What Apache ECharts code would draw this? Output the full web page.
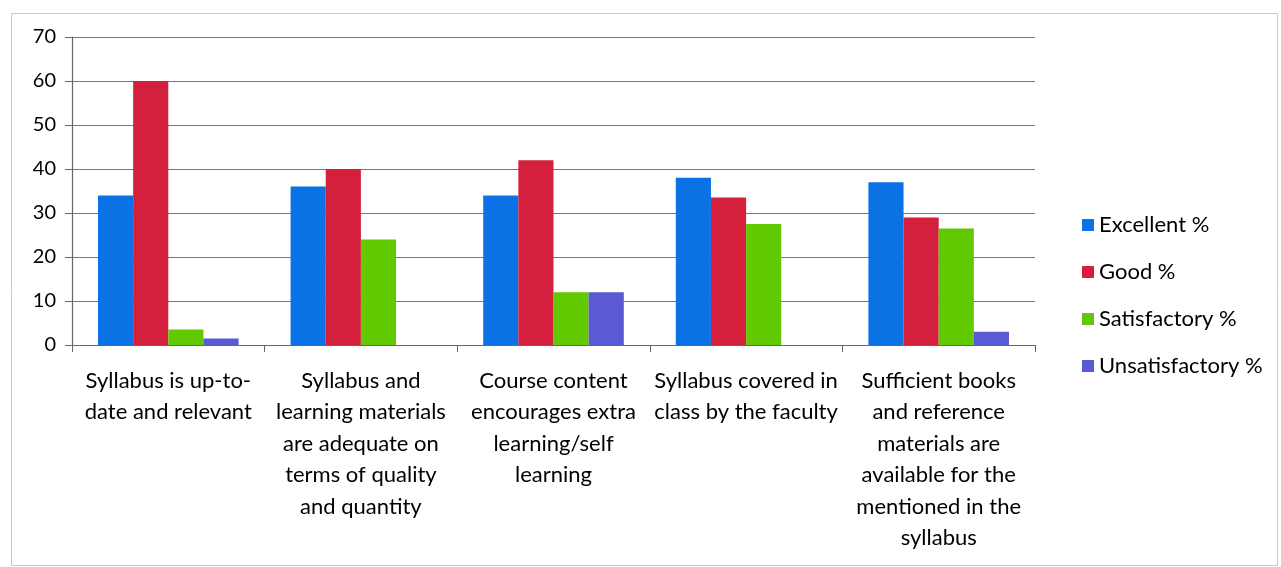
<!DOCTYPE html>
<html><head><meta charset="utf-8">
<script src="https://cdn.jsdelivr.net/npm/echarts@6/dist/echarts.min.js"></script>
<style>html,body{margin:0;padding:0;background:#fff}#c{width:1281px;height:567px}</style>
</head><body><div id="c"></div>
<script>
const categories = [
  "Syllabus is up-to-\ndate and relevant",
  "Syllabus and\nlearning materials\nare adequate on\nterms of quality\nand quantity",
  "Course content\nencourages extra\nlearning/self\nlearning",
  "Syllabus covered in\nclass by the faculty",
  "Sufficient books\nand reference\nmaterials are\navailable for the\nmentioned in the\nsyllabus"
];
const seriesNames = ["Excellent %", "Good %", "Satisfactory %", "Unsatisfactory %"];
const excellent = [34, 36, 34, 38, 37];
const good = [60, 40, 42, 33.5, 29];
const satisfactory = [3.5, 24, 12, 27.5, 26.5];
const unsatisfactory = [1.5, 0, 12, 0, 3];
const yTicks = [0, 10, 20, 30, 40, 50, 60, 70];
const colors = ["#0b72e6", "#d41f3d", "#62c800", "#5a5ad2"];

const chart = echarts.init(document.getElementById('c'));
const dataSets = [excellent, good, satisfactory, unsatisfactory];
chart.setOption({
  animation: false,
  backgroundColor: '#fff',
  textStyle: {fontFamily: 'Lato, "Open Sans", sans-serif'},
  graphic: [{
    type: 'rect', left: 9, top: 11, silent: true,
    shape: {width: 1266, height: 552},
    style: {fill: 'none', stroke: '#c8c8c8', lineWidth: 1}
  }],
  grid: {left: 72, right: 246, top: 37, bottom: 222, containLabel: false},
  legend: {
    orient: 'vertical', left: 1077, top: 209, itemGap: 25,
    itemWidth: 12, itemHeight: 12, icon: 'rect',
    textStyle: {fontSize: 22, color: '#000', fontFamily: 'Lato, sans-serif'},
    data: seriesNames
  },
  xAxis: {
    type: 'category', data: categories,
    axisLine: {lineStyle: {color: '#666', width: 1.2}},
    axisTick: {show: true, length: 7, lineStyle: {color: '#666'}},
    axisLabel: {fontSize: 22, color: '#000', lineHeight: 31.5, margin: 20, interval: 0, fontFamily: 'Lato, sans-serif'}
  },
  yAxis: {
    type: 'value', min: 0, max: 70, interval: 10,
    axisLine: {show: true, lineStyle: {color: '#666', width: 1.2}},
    axisTick: {show: true, length: 7, lineStyle: {color: '#666'}},
    axisLabel: {fontSize: 20, color: '#000', margin: 16, fontFamily: 'Lato, sans-serif',
      formatter: v => yTicks.includes(v) ? String(v) : ''},
    splitLine: {lineStyle: {color: '#777', width: 1.2}}
  },
  series: seriesNames.map((n, i) => ({
    name: n, type: 'bar', data: dataSets[i],
    barGap: '0%', barCategoryGap: '27%',
    itemStyle: {color: colors[i]}
  }))
});
</script></body></html>
